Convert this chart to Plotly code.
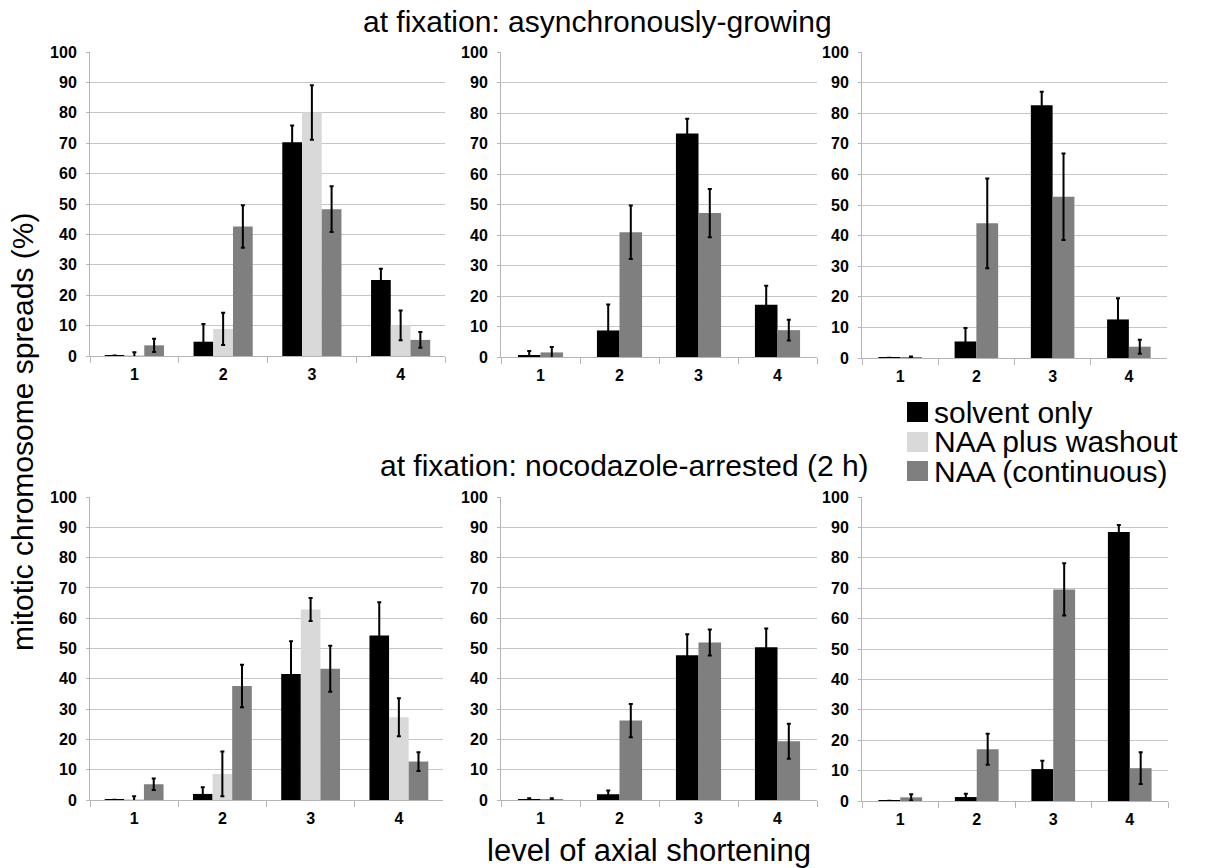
import plotly.graph_objects as go

W, H = 1210, 868

categories = ["1", "2", "3", "4"]
series_names = ["solvent only", "NAA plus washout", "NAA (continuous)"]
series_colors = ["#000000", "#d9d9d9", "#7f7f7f"]

# Panel 1: asynchronously-growing, experiment A (3 series)
p1_solvent = [0.2, 4.7, 70.3, 25.0]
p1_solvent_err = [0.0, 5.8, 5.5, 3.7]
p1_washout = [0.3, 8.9, 80.1, 10.1]
p1_washout_err = [0.9, 5.3, 9.0, 4.9]
p1_naa = [3.5, 42.6, 48.3, 5.3]
p1_naa_err = [2.2, 7.0, 7.5, 2.6]

# Panel 2: asynchronously-growing, experiment B (2 series)
p2_solvent = [0.5, 8.7, 73.3, 17.1]
p2_solvent_err = [1.5, 8.5, 4.8, 6.3]
p2_naa = [1.5, 40.9, 47.2, 8.8]
p2_naa_err = [1.8, 8.8, 7.9, 3.4]

# Panel 3: asynchronously-growing, experiment C (2 series)
p3_solvent = [0.1, 5.4, 82.6, 12.6]
p3_solvent_err = [0.0, 4.4, 4.4, 6.9]
p3_naa = [0.2, 44.0, 52.7, 3.7]
p3_naa_err = [0.3, 14.7, 14.1, 2.3]

# Panel 4: nocodazole-arrested, experiment A (3 series)
p4_solvent = [0.1, 2.0, 41.6, 54.3]
p4_solvent_err = [0.0, 2.2, 10.8, 11.0]
p4_washout = [0.3, 8.6, 62.9, 27.3]
p4_washout_err = [0.9, 7.4, 3.8, 6.3]
p4_naa = [5.2, 37.6, 43.3, 12.7]
p4_naa_err = [1.9, 7.0, 7.6, 3.1]

# Panel 5: nocodazole-arrested, experiment B (2 series)
p5_solvent = [0.3, 1.9, 47.8, 50.4]
p5_solvent_err = [0.3, 1.2, 6.9, 6.2]
p5_naa = [0.3, 26.2, 52.0, 19.4]
p5_naa_err = [0.3, 5.5, 4.3, 5.8]

# Panel 6: nocodazole-arrested, experiment C (2 series)
p6_solvent = [0.1, 1.3, 10.5, 88.5]
p6_solvent_err = [0.0, 1.1, 2.7, 2.3]
p6_naa = [1.2, 17.0, 69.6, 10.8]
p6_naa_err = [1.0, 5.1, 8.6, 5.2]

y_ticks = [0, 10, 20, 30, 40, 50, 60, 70, 80, 90, 100]

panels = [
    [(0, p1_solvent, p1_solvent_err), (1, p1_washout, p1_washout_err), (2, p1_naa, p1_naa_err)],
    [(0, p2_solvent, p2_solvent_err), (2, p2_naa, p2_naa_err)],
    [(0, p3_solvent, p3_solvent_err), (2, p3_naa, p3_naa_err)],
    [(0, p4_solvent, p4_solvent_err), (1, p4_washout, p4_washout_err), (2, p4_naa, p4_naa_err)],
    [(0, p5_solvent, p5_solvent_err), (2, p5_naa, p5_naa_err)],
    [(0, p6_solvent, p6_solvent_err), (2, p6_naa, p6_naa_err)],
]

# pixel boxes of plot areas (left, right, top, bottom)
boxes = [
    (90, 445, 52, 356), (501, 817, 52, 357), (862, 1167, 52, 358),
    (90, 443, 497, 800), (501, 817, 497, 800), (862, 1168, 497, 801),
]

FONT = "Liberation Sans, Arial, Helvetica, sans-serif"
GRID = "#c6c6c6"

fig = go.Figure()
layout_axes = {}
for i, (series, box) in enumerate(zip(panels, boxes)):
    n = len(series)
    bw = 1.0 / (n + 1.5)
    xa = "x" if i == 0 else f"x{i+1}"
    ya = "y" if i == 0 else f"y{i+1}"
    for k, (si, vals, errs) in enumerate(series):
        off = -n * bw / 2 + k * bw
        fig.add_trace(go.Bar(
            x=categories, y=vals, name=series_names[si],
            marker=dict(color=series_colors[si], line=dict(width=0)),
            width=bw, offset=off,
            error_y=dict(type="data", array=errs, color="black", thickness=2, width=2),
            xaxis=xa, yaxis=ya, showlegend=False,
        ))
    l, r, t, b = box
    xkey = "xaxis" if i == 0 else f"xaxis{i+1}"
    ykey = "yaxis" if i == 0 else f"yaxis{i+1}"
    layout_axes[xkey] = dict(
        domain=[l / W, r / W], anchor=ya, type="category", automargin=False,
        range=[-0.5, 3.5], showline=True, linecolor="#b5b5b5", linewidth=1,
        ticks="outside", tickson="boundaries", ticklen=6, tickcolor="#b5b5b5",
        showgrid=False, ticklabelstandoff=4,
        tickfont=dict(family=FONT, size=16, color="black", weight="bold"),
        fixedrange=True,
    )
    layout_axes[ykey] = dict(
        domain=[1 - b / H, 1 - t / H], anchor=xa, range=[0, 100], automargin=False,
        tickvals=y_ticks, showgrid=True, gridcolor=GRID, gridwidth=1,
        showline=True, linecolor="#b5b5b5", linewidth=1, zeroline=False,
        ticks="outside", ticklen=3, tickcolor="#b5b5b5", ticklabelstandoff=6,
        tickfont=dict(family=FONT, size=16, color="black", weight="bold"),
        fixedrange=True,
    )

annotations = [
    dict(text="at fixation: asynchronously-growing", x=597 / W, y=1 - 22 / H,
         xref="paper", yref="paper", showarrow=False, xanchor="center", yanchor="middle",
         font=dict(family=FONT, size=30, color="black")),
    dict(text="at fixation: nocodazole-arrested (2 h)", x=624 / W, y=1 - 465 / H,
         xref="paper", yref="paper", showarrow=False, xanchor="center", yanchor="middle",
         font=dict(family=FONT, size=30, color="black")),
    dict(text="level of axial shortening", x=649 / W, y=1 - 850 / H,
         xref="paper", yref="paper", showarrow=False, xanchor="center", yanchor="middle",
         font=dict(family=FONT, size=31, color="black")),
    dict(text="mitotic chromosome spreads (%)", x=22 / W, y=1 - 432 / H,
         xref="paper", yref="paper", showarrow=False, xanchor="center", yanchor="middle",
         textangle=-90, font=dict(family=FONT, size=30, color="black")),
]

shapes = []
legend_rows = [412, 442, 471]
for name, color, yc in zip(series_names, series_colors, legend_rows):
    shapes.append(dict(type="rect", xref="paper", yref="paper",
                       x0=907 / W, x1=928 / W, y0=1 - (yc + 10) / H, y1=1 - (yc - 10) / H,
                       fillcolor=color, line=dict(width=0)))
    annotations.append(dict(text=name, x=932 / W, y=1 - yc / H, xref="paper", yref="paper",
                            showarrow=False, xanchor="left", yanchor="middle",
                            font=dict(family=FONT, size=30, color="black")))

fig.update_layout(
    width=W, height=H, margin=dict(l=0, r=0, t=0, b=0, autoexpand=False),
    paper_bgcolor="white", plot_bgcolor="white",
    barmode="overlay", showlegend=False,
    annotations=annotations, shapes=shapes,
    **layout_axes,
)

fig.write_html("out.html", config={"displayModeBar": False},
               post_script="document.body.style.margin='0px';")
